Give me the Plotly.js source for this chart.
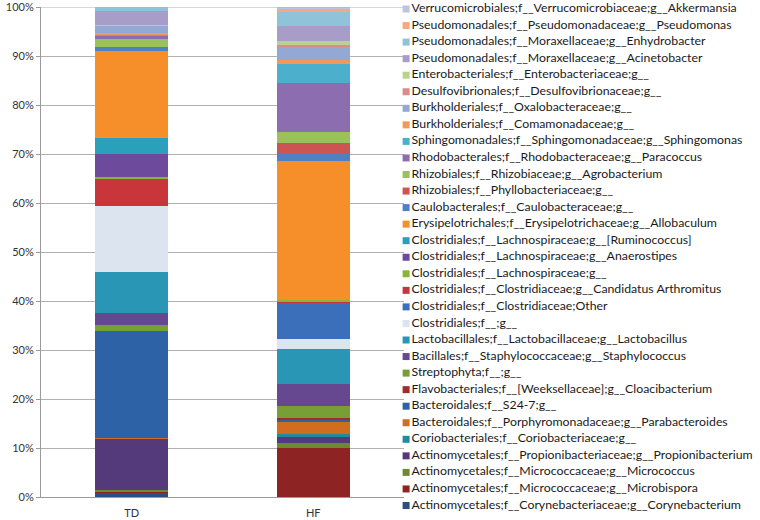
<!DOCTYPE html>
<html><head><meta charset="utf-8">
<script src="https://cdn.plot.ly/plotly-3.0.1.min.js"></script>
<style>html,body{margin:0;padding:0;background:#fff}#chart{width:760px;height:520px}</style>
</head><body><div id="chart"></div>
<script>
// Samples (x categories)
const samples = ['TD', 'HF'];

// Taxa, listed from the bottom of the stack to the top
const taxa = [
  'Actinomycetales;f__Corynebacteriaceae;g__Corynebacterium',
  'Actinomycetales;f__Micrococcaceae;g__Microbispora',
  'Actinomycetales;f__Micrococcaceae;g__Micrococcus',
  'Actinomycetales;f__Propionibacteriaceae;g__Propionibacterium',
  'Coriobacteriales;f__Coriobacteriaceae;g__',
  'Bacteroidales;f__Porphyromonadaceae;g__Parabacteroides',
  'Bacteroidales;f__S24-7;g__',
  'Flavobacteriales;f__[Weeksellaceae];g__Cloacibacterium',
  'Streptophyta;f__;g__',
  'Bacillales;f__Staphylococcaceae;g__Staphylococcus',
  'Lactobacillales;f__Lactobacillaceae;g__Lactobacillus',
  'Clostridiales;f__;g__',
  'Clostridiales;f__Clostridiaceae;Other',
  'Clostridiales;f__Clostridiaceae;g__Candidatus Arthromitus',
  'Clostridiales;f__Lachnospiraceae;g__',
  'Clostridiales;f__Lachnospiraceae;g__Anaerostipes',
  'Clostridiales;f__Lachnospiraceae;g__[Ruminococcus]',
  'Erysipelotrichales;f__Erysipelotrichaceae;g__Allobaculum',
  'Caulobacterales;f__Caulobacteraceae;g__',
  'Rhizobiales;f__Phyllobacteriaceae;g__',
  'Rhizobiales;f__Rhizobiaceae;g__Agrobacterium',
  'Rhodobacterales;f__Rhodobacteraceae;g__Paracoccus',
  'Sphingomonadales;f__Sphingomonadaceae;g__Sphingomonas',
  'Burkholderiales;f__Comamonadaceae;g__',
  'Burkholderiales;f__Oxalobacteraceae;g__',
  'Desulfovibrionales;f__Desulfovibrionaceae;g__',
  'Enterobacteriales;f__Enterobacteriaceae;g__',
  'Pseudomonadales;f__Moraxellaceae;g__Acinetobacter',
  'Pseudomonadales;f__Moraxellaceae;g__Enhydrobacter',
  'Pseudomonadales;f__Pseudomonadaceae;g__Pseudomonas',
  'Verrucomicrobiales;f__Verrucomicrobiaceae;g__Akkermansia'
];

// Relative abundance (%) per taxon, same order as taxa
const tdValues = [0.8, 0.2, 0.5, 10.4, 0.0, 0.1, 21.8, 0.0, 1.3, 2.5, 8.4, 13.3, 0.0, 5.5, 0.6, 4.5, 3.3, 17.9,
                  0.7, 0.1, 1.6, 0.6, 0.1, 0.4, 1.5, 0.1, 0.1, 2.8, 0.6, 0.2, 0.1];
const hfValues = [0.0, 9.9, 1.2, 1.1, 0.7, 2.5, 0.3, 0.4, 2.5, 4.5, 7.1, 2.1, 7.2, 0.3, 0.5, 0.0, 0.0, 28.3,
                  1.7, 2.0, 2.2, 10.0, 3.9, 0.7, 2.7, 0.5, 0.7, 3.1, 2.9, 0.5, 0.5];

const colors = ['#294f85', '#8e2324', '#6e8a30', '#54397b', '#1f8aa0', '#d06d1e', '#2e62a6', '#a32b2b',
                '#789f36', '#65488f', '#2996b5', '#dce4ef', '#3b6fba', '#c8353a', '#88b53a', '#6d4a9c',
                '#2aa0bd', '#f68e2a', '#4f80c4', '#cc5452', '#9bc15a', '#8b6db0', '#4cb0cc', '#f0995a',
                '#93a9d4', '#da8b8b', '#b6d48c', '#a89cc8', '#8fc3da', '#f5a882', '#bac6e0'];

const yTicks = [0, 10, 20, 30, 40, 50, 60, 70, 80, 90, 100];

const traces = taxa.map((name, i) => ({
  type: 'bar',
  name: name,
  x: samples,
  y: [tdValues[i], hfValues[i]],
  marker: {color: colors[i], line: {width: 0}},
  showlegend: false,
  hoverinfo: 'name+y'
}));

// Legend drawn as a marker+text column on its own axes (top row = top of stack)
const n = taxa.length;
traces.push({
  type: 'scatter',
  mode: 'markers+text',
  xaxis: 'x2',
  yaxis: 'y2',
  x: taxa.map(() => 0),
  y: taxa.map((_, i) => n - 1 - i),
  text: taxa,
  textposition: 'middle right',
  textfont: {family: 'Lato, sans-serif', size: 12.3, color: '#1a1a1a'},
  marker: {symbol: 'square', size: 7, color: colors, line: {width: 0}},
  showlegend: false,
  hoverinfo: 'skip',
  cliponaxis: false
});

const layout = {
  width: 760, height: 520,
  margin: {l: 41, r: 4, t: 7, b: 3, pad: 0},
  barmode: 'stack',
  bargap: 0.6,
  paper_bgcolor: '#ffffff',
  plot_bgcolor: '#ffffff',
  font: {family: 'Lato, sans-serif', size: 11, color: '#333333'},
  showlegend: false,
  xaxis: {
    domain: [0, 363 / 715],
    anchor: 'y',
    showline: true, linecolor: '#9a9a9a', linewidth: 1,
    ticks: '', showgrid: false, zeroline: false,
    ticklabelstandoff: 6,
    tickfont: {size: 11, color: '#333333'}
  },
  yaxis: {
    domain: [20 / 510, 1],
    range: [0, 100],
    tickvals: yTicks,
    ticktext: yTicks.map(v => v + '%'),
    ticklabeloverflow: 'allow',
    showline: true, linecolor: '#9a9a9a', linewidth: 1,
    ticks: 'outside', ticklen: 4, tickcolor: '#9a9a9a',
    showgrid: true, gridcolor: '#b0b0b0', gridwidth: 1,
    zeroline: false,
    tickfont: {size: 11, color: '#333333'}
  },
  shapes: [{
    type: 'line', xref: 'x domain', yref: 'y', x0: 0, x1: 1, y0: 100, y1: 100,
    line: {color: '#b0b0b0', width: 1}
  }],
  xaxis2: {domain: [363 / 715, 1], anchor: 'y2', range: [-0.6, 99.4], visible: false, fixedrange: true},
  yaxis2: {domain: [0, 1], anchor: 'x2', range: [30.695, -0.1208], visible: false, fixedrange: true}
};

Plotly.newPlot('chart', traces, layout, {displayModeBar: false, staticPlot: true});
</script>
</body></html>
